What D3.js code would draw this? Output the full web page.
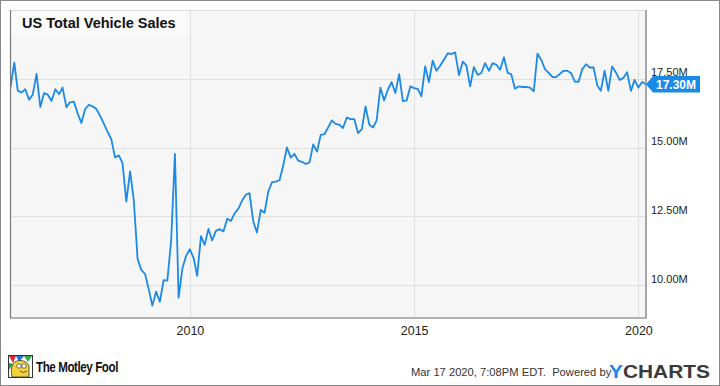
<!DOCTYPE html>
<html>
<head>
<meta charset="utf-8">
<script src="https://cdn.jsdelivr.net/npm/d3@7"></script>
<style>
  html, body { margin: 0; padding: 0; background: #fff; }
  svg { display: block; font-family: "Liberation Sans", Arial, Helvetica, sans-serif; }
</style>
</head>
<body>
<svg id="chart" width="720" height="386"></svg>
<script>
// ---- Data (monthly, YCharts month-end points) ----
const startMonth = "2006-01-01";
const values = [
  17.20, 18.09, 17.07, 17.00, 17.12, 16.74, 16.92, 17.68, 16.47, 16.98, 16.92, 16.69,
  17.12, 16.94, 17.18, 16.47, 16.64, 16.67, 16.25, 15.89, 16.40, 16.55, 16.49, 16.40,
  16.15, 15.86, 15.58, 15.30, 14.64, 14.71, 14.43, 13.03, 14.13, 13.09, 10.94, 10.55,
  10.40, 9.82, 9.25, 9.76, 9.39, 10.18, 10.16, 11.60, 14.77, 9.54, 10.61, 11.06,
  11.30, 10.97, 10.33, 11.78, 11.46, 12.04, 11.62, 11.97, 12.03, 11.95, 12.41, 12.33,
  12.61, 12.79, 13.06, 13.28, 13.34, 12.31, 11.91, 12.73, 12.63, 13.40, 13.74, 13.76,
  13.81, 14.37, 15.00, 14.63, 14.77, 14.52, 14.48, 14.40, 14.46, 15.11, 14.85, 15.46,
  15.49, 15.74, 15.98, 15.86, 15.83, 15.71, 16.09, 16.03, 16.03, 15.52, 15.67, 16.49,
  15.83, 15.73, 15.98, 17.18, 16.71, 17.10, 17.38, 16.98, 17.67, 16.69, 16.71, 17.22,
  17.16, 17.12, 16.86, 17.95, 17.38, 18.16, 17.79, 17.97, 18.20, 18.42, 18.40, 18.46,
  17.63, 18.12, 17.99, 17.22, 17.92, 17.64, 17.71, 18.07, 17.79, 18.07, 18.01, 17.83,
  18.28, 17.71, 17.67, 17.14, 17.22, 17.20, 17.20, 17.18, 17.04, 18.41, 18.19, 17.85,
  17.71, 17.56, 17.56, 17.67, 17.79, 17.79, 17.71, 17.40, 17.39, 17.85, 18.03, 17.91,
  17.91, 17.25, 17.06, 17.79, 17.06, 17.95, 17.74, 17.46, 17.53, 17.74, 17.06, 17.46,
  17.18, 17.38, 17.30
];
const yTicks = [10, 12.5, 15, 17.5];
const yTickLabels = ["10.00M", "12.50M", "15.00M", "17.50M"];
const xTickYears = [2010, 2015, 2020];
const lastLabel = "17.30M";
const title = "US Total Vehicle Sales";
const footerText = "Mar 17 2020, 7:08PM EDT.  Powered by";

// ---- Layout ----
const W = 720, H = 386;
const plot = { left: 10.5, right: 646, top: 10, bottom: 318 };
const blue = "#1b8ae6";

const svg = d3.select("#chart");

// outer border
svg.append("rect").attr("x", 0.5).attr("y", 0.5).attr("width", W - 1).attr("height", H - 1)
  .attr("fill", "#fff").attr("stroke", "#8a8a8a").attr("stroke-width", 1);

const start = d3.timeParse("%Y-%m-%d")(startMonth);
const dates = values.map((v, i) => d3.timeMonth.offset(start, i));
const data = values.map((v, i) => ({ date: dates[i], value: v }));

const x = d3.scaleTime()
  .domain([start, new Date(2020, 2, 3)])
  .range([plot.left, plot.right]);
const y = d3.scaleLinear()
  .domain([8.8, 20.0])
  .range([plot.bottom, plot.top]);

// plot background
svg.append("rect").attr("x", plot.left).attr("y", plot.top)
  .attr("width", plot.right - plot.left).attr("height", plot.bottom - plot.top)
  .attr("fill", "#f6f6f6");

// grid lines
const grid = svg.append("g");
grid.selectAll("line.h").data(yTicks).join("line")
  .attr("x1", plot.left).attr("x2", plot.right)
  .attr("y1", d => Math.round(y(d)) + 0.5).attr("y2", d => Math.round(y(d)) + 0.5)
  .attr("stroke", "#e0e0e0").attr("stroke-width", 1);
grid.selectAll("line.v").data(xTickYears).join("line")
  .attr("x1", d => Math.round(x(new Date(d, 0, 1))) + 0.5)
  .attr("x2", d => Math.round(x(new Date(d, 0, 1))) + 0.5)
  .attr("y1", plot.top).attr("y2", plot.bottom)
  .attr("stroke", "#e0e0e0").attr("stroke-width", 1);

// title box
svg.append("rect").attr("x", plot.left + 0.5).attr("y", plot.top + 0.5)
  .attr("width", 175).attr("height", 25).attr("fill", "#fafafa");
svg.append("text").attr("x", 22).attr("y", 27.5)
  .attr("font-size", "14.5px").attr("font-weight", "bold").attr("fill", "#111")
  .text(title);

// clip + line
svg.append("clipPath").attr("id", "clip").append("rect")
  .attr("x", plot.left).attr("y", plot.top)
  .attr("width", plot.right - plot.left).attr("height", plot.bottom - plot.top);

const line = d3.line().x(d => x(d.date)).y(d => y(d.value));
svg.append("path").datum(data)
  .attr("clip-path", "url(#clip)")
  .attr("fill", "none").attr("stroke", blue).attr("stroke-width", 1.8)
  .attr("stroke-linejoin", "round")
  .attr("d", line);

// plot frame
svg.append("rect").attr("x", plot.left).attr("y", plot.top + 0.5)
  .attr("width", plot.right - plot.left).attr("height", plot.bottom - plot.top - 0.5)
  .attr("fill", "none").attr("stroke", "#dcdcdc").attr("stroke-width", 1);
svg.append("path")
  .attr("d", `M${plot.left},${plot.top}V${plot.bottom}H${plot.right}V${plot.top}`)
  .attr("fill", "none").attr("stroke", "#7a7a7a").attr("stroke-width", 1.2);

// right y axis labels
const yAxis = d3.axisRight(y).tickValues(yTicks)
  .tickFormat((d, i) => yTickLabels[i]).tickSize(0).tickPadding(5);
const gy = svg.append("g").attr("transform", `translate(${plot.right},0)`).call(yAxis);
gy.select(".domain").remove();
gy.selectAll("text").attr("font-size", "11px").attr("fill", "#222")
  .attr("font-family", "'Liberation Sans', Arial, sans-serif")
  .attr("dy", "-3px").attr("x", 5);

// bottom x axis labels
const xAxis = d3.axisBottom(x).tickValues(xTickYears.map(d => new Date(d, 0, 1)))
  .tickFormat(d3.timeFormat("%Y")).tickSize(0).tickPadding(8);
const gx = svg.append("g").attr("transform", `translate(0,${plot.bottom})`).call(xAxis);
gx.select(".domain").remove();
gx.selectAll("text").attr("font-size", "12.5px").attr("fill", "#222")
  .attr("font-family", "'Liberation Sans', Arial, sans-serif");

// last value badge
const last = data[data.length - 1];
const ly = y(last.value);
const bx = plot.right;
const badge = svg.append("g");
badge.append("path")
  .attr("d", `M${bx},${ly} L${bx + 7},${ly - 8.3} H${bx + 54} V${ly + 8.3} H${bx + 7} Z`)
  .attr("fill", blue);
badge.append("text").attr("x", bx + 10).attr("y", ly + 4.3)
  .attr("font-size", "12px").attr("font-weight", "bold").attr("fill", "#fff")
  .text(lastLabel);

// ---- Footer: Motley Fool logo ----
const mf = svg.append("g");
mf.append("rect").attr("x", 8.5).attr("y", 355.5).attr("width", 24).attr("height", 22)
  .attr("fill", "#fff").attr("stroke", "#333").attr("stroke-width", 1);
mf.append("path").attr("d", "M9,356 L16,356 L13,363 Z").attr("fill", "#d62b2b");
mf.append("path").attr("d", "M16,356 L24,356 L19,362 Z").attr("fill", "#2a6fd1");
mf.append("path").attr("d", "M24,356 L32,356 L28,362 Z").attr("fill", "#36a84a");
mf.append("path").attr("d", "M9,363 L9,370 L13,364 Z").attr("fill", "#2a9d3c");
mf.append("path").attr("d", "M13,364 C16,359 26,359 29,366 L29,377 L12,377 C11,372 11,368 13,364 Z")
  .attr("fill", "#f2d23a").attr("stroke", "#333").attr("stroke-width", 0.8);
mf.append("circle").attr("cx", 19).attr("cy", 366).attr("r", 2.2).attr("fill", "#fff").attr("stroke", "#333").attr("stroke-width", 0.7);
mf.append("circle").attr("cx", 24).attr("cy", 366).attr("r", 2.2).attr("fill", "#fff").attr("stroke", "#333").attr("stroke-width", 0.7);
mf.append("path").attr("d", "M20,371 Q23,374 27,371").attr("fill", "none").attr("stroke", "#333").attr("stroke-width", 0.8);
mf.append("text").attr("x", 36).attr("y", 372)
  .attr("font-size", "14px").attr("font-weight", "bold").attr("fill", "#111")
  .attr("textLength", 82).attr("lengthAdjust", "spacingAndGlyphs")
  .attr("letter-spacing", "-0.5px")
  .text("The Motley Fool");

// ---- Footer: timestamp + YCHARTS ----
svg.append("text").attr("x", 411).attr("y", 376)
  .attr("font-size", "11.2px").attr("fill", "#333")
  .attr("xml:space", "preserve")
  .style("white-space", "pre")
  .text(footerText);
const yc = svg.append("text").attr("x", 609).attr("y", 377.5)
  .attr("font-size", "19px").attr("font-weight", "bold")
  .attr("textLength", 101).attr("lengthAdjust", "spacingAndGlyphs");
yc.append("tspan").attr("fill", "#1b8ae6").text("Y");
yc.append("tspan").attr("fill", "#3a3a3a").text("CHARTS");
</script>
</body>
</html>
